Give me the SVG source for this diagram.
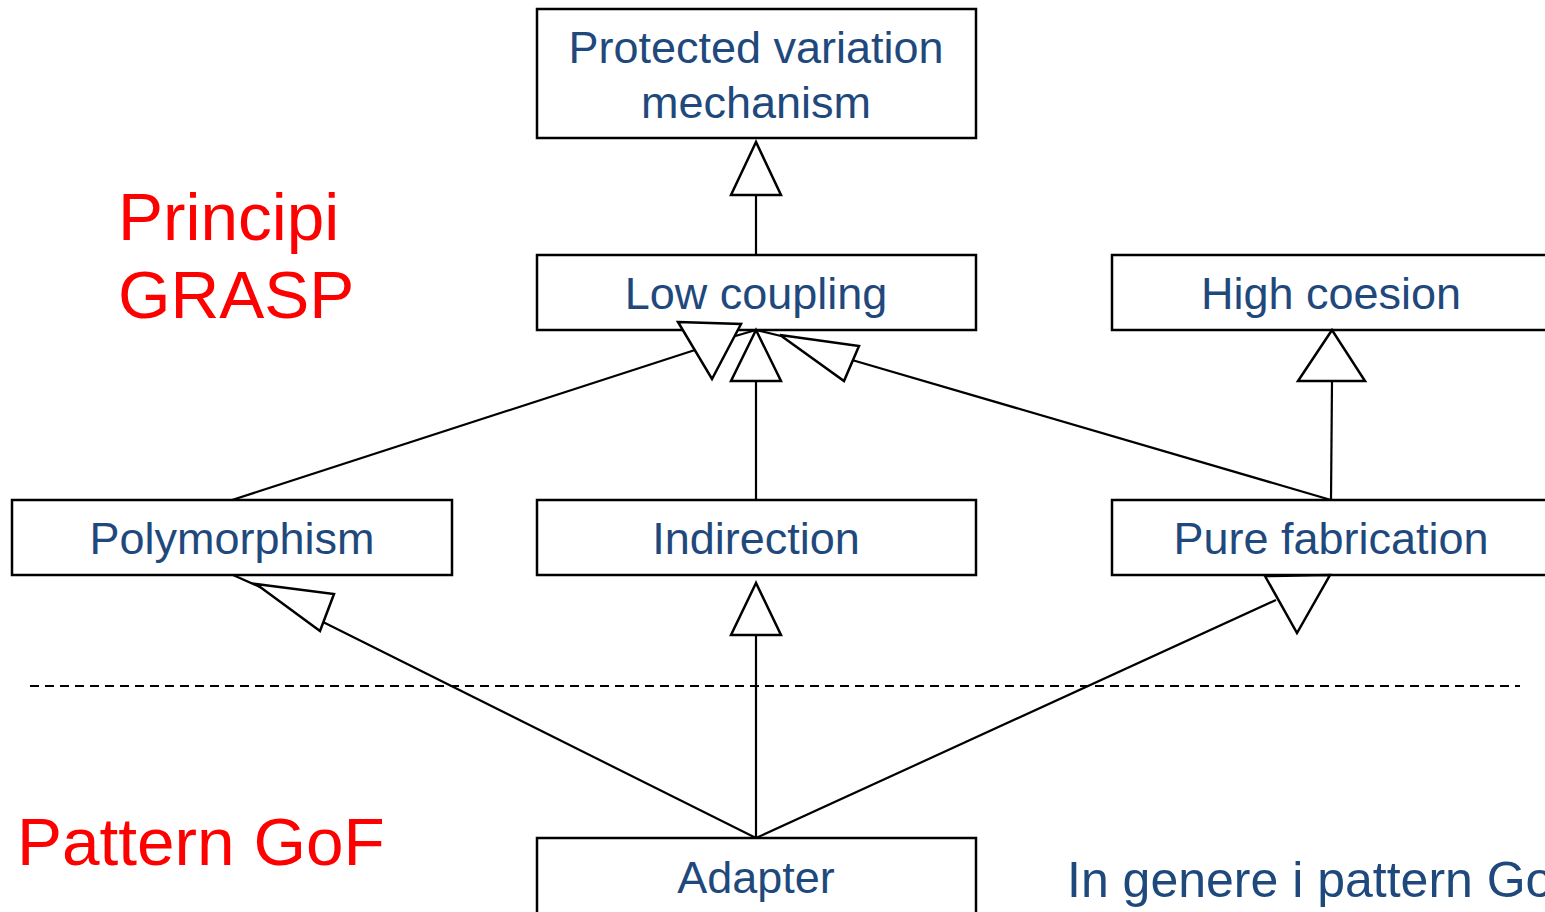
<svg xmlns="http://www.w3.org/2000/svg" width="1545" height="912" viewBox="0 0 1545 912">
<style>
.box{fill:#fff;stroke:#000;stroke-width:2.5}
.lbl{font-family:"Liberation Sans",Arial,sans-serif;font-size:45px;fill:#1F497D;text-anchor:middle}
.red{font-family:"Liberation Sans",Arial,sans-serif;font-size:67.5px;fill:#FF0000}
.ln{fill:none;stroke:#000;stroke-width:2.2}
.tri{fill:#fff;stroke:#000;stroke-width:2.5;stroke-linejoin:miter}
</style>
<rect width="1545" height="912" fill="#fff"/>
<g id="protected">
<rect class="box" x="537" y="9" width="439" height="129"/>
<text class="lbl" x="756" y="63">Protected variation</text>
<text class="lbl" x="756" y="118">mechanism</text>
</g>
<g id="lowcoupling">
<rect class="box" x="537" y="255" width="439" height="75"/>
<text class="lbl" x="756" y="309">Low coupling</text>
</g>
<g id="highcoesion">
<rect class="box" x="1112" y="255" width="445" height="75"/>
<text class="lbl" x="1331" y="309">High coesion</text>
</g>
<g id="polymorphism">
<rect class="box" x="12" y="500" width="440" height="75"/>
<text class="lbl" x="232" y="554">Polymorphism</text>
</g>
<g id="indirection">
<rect class="box" x="537" y="500" width="439" height="75"/>
<text class="lbl" x="756" y="554">Indirection</text>
</g>
<g id="purefabrication">
<rect class="box" x="1112" y="500" width="445" height="75"/>
<text class="lbl" x="1331" y="554">Pure fabrication</text>
</g>
<g id="adapter">
<rect class="box" x="537" y="838" width="439" height="90"/>
<text class="lbl" x="756" y="893">Adapter</text>
</g>
<g id="connectors">
<line class="ln" x1="30" y1="686" x2="1520" y2="686" stroke-dasharray="9,6"/>
<line class="ln" x1="756" y1="255" x2="756" y2="194"/>
<line class="ln" x1="756" y1="500" x2="756" y2="381"/>
<line class="ln" x1="232" y1="500" x2="695" y2="350"/>
<line class="ln" x1="1331" y1="500" x2="852" y2="360"/>
<line class="ln" x1="1331" y1="500" x2="1332" y2="381"/>
<line class="ln" x1="756" y1="838" x2="756" y2="635"/>
<line class="ln" x1="756" y1="838" x2="323" y2="622"/>
<line class="ln" x1="756" y1="838" x2="1276" y2="600"/>
<line class="ln" x1="732" y1="337" x2="756" y2="330"/>
<line class="ln" x1="756" y1="330" x2="781" y2="336"/>
<line class="ln" x1="233" y1="575" x2="262" y2="588"/>
<polygon class="tri" points="756,142 731,195 781,195"/>
<polygon class="tri" points="756,330 731,381 781,381"/>
<polygon class="tri" points="678,322 741,324 712,379"/>
<polygon class="tri" points="780,335 859,346 844,381"/>
<polygon class="tri" points="1332,330 1298,381 1365,381"/>
<polygon class="tri" points="756,583 731,635 781,635"/>
<polygon class="tri" points="256,584 334,594 320,631"/>
<polygon class="tri" points="1265,576 1330,575 1297,633"/>
</g>
<g id="labels">
<text class="red" x="118" y="240">Principi</text>
<text class="red" x="118" y="318">GRASP</text>
<text class="red" x="17" y="865">Pattern GoF</text>
<text x="1067" y="897" style="font-family:'Liberation Sans',Arial,sans-serif;font-size:50px;fill:#1F497D">In genere i pattern GoF</text>
</g>
</svg>
